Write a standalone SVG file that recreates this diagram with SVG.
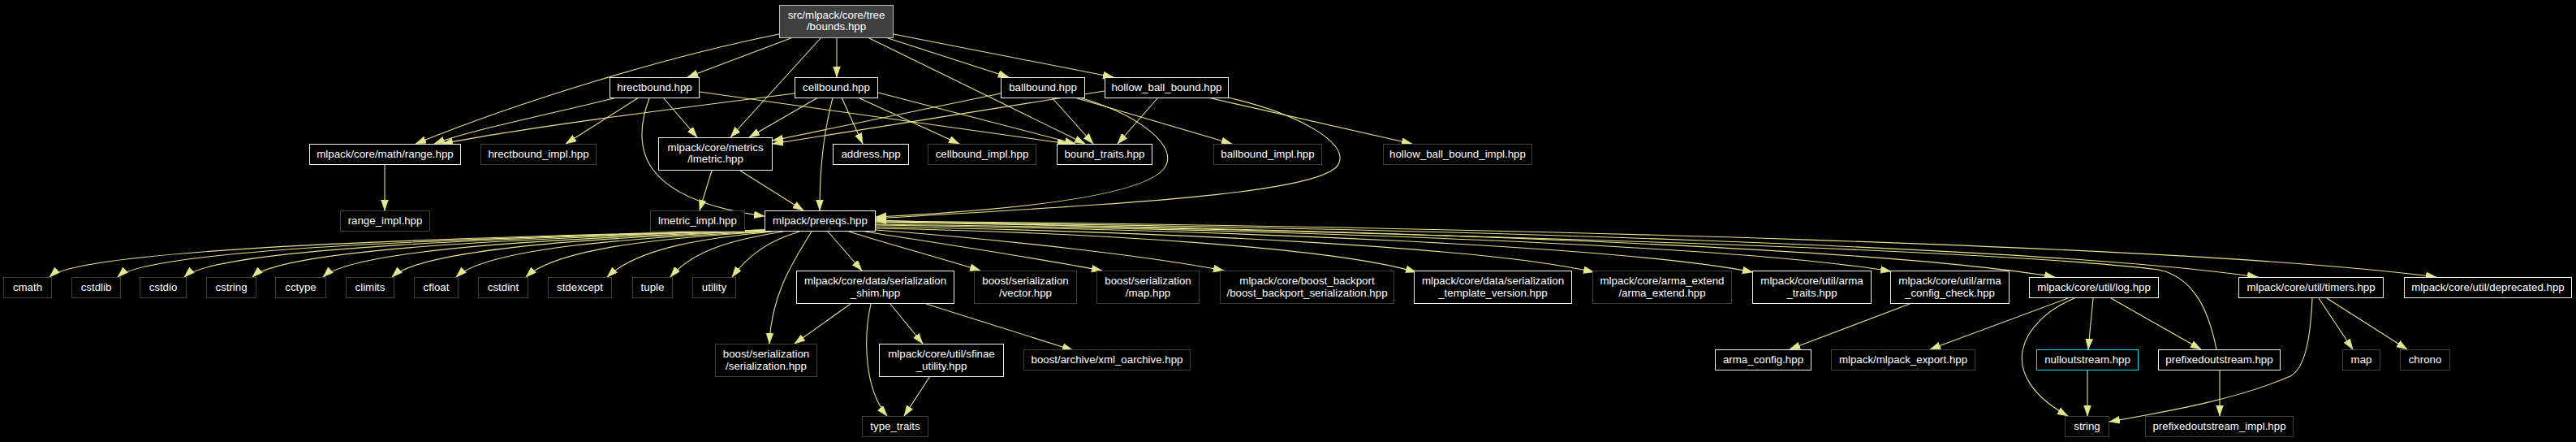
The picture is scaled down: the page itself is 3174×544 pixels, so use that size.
<svg xmlns="http://www.w3.org/2000/svg" width="3174" height="544" viewBox="0 0 3174 544">
<style>
text{font-family:"Liberation Sans",Arial,Helvetica,sans-serif;font-size:13.3px;fill:#ffffff;text-anchor:middle}
.doc{fill:#000;stroke:#f0f0f0;stroke-width:1}
.und{fill:#000;stroke:#404040;stroke-width:1}
.root{fill:#404040;stroke:#bfbfbf;stroke-width:1}
.trunc{fill:#000;stroke:#00e5e5;stroke-width:1}
#edges path{fill:none;stroke:#e6e68f;stroke-width:1.1;marker-end:url(#ah)}
</style>
<defs>
<marker id="ah" markerUnits="userSpaceOnUse" markerWidth="14" markerHeight="10" refX="13" refY="4.5" orient="auto">
<path d="M0,0 L13,4.5 L0,9 z" fill="#e6e68f" stroke="#e6e68f" stroke-width="0.5"/>
</marker>
</defs>
<rect x="0" y="0" width="3174" height="544" fill="#000"/>
<g id="edges">
<path d="M960,42 C820,70 640,125 512,177"/>
<path d="M977,46 L847,95"/>
<path d="M1012,46 L900,169"/>
<path d="M1031,46 L1031,95"/>
<path d="M1069,46 L1337,177"/>
<path d="M1091,46 L1243,95"/>
<path d="M1101,42 L1372,95"/>
<path d="M760,120 C680,140 580,160 535,177"/>
<path d="M787,120 L697,177"/>
<path d="M800,121 C778,180 785,245 942,266"/>
<path d="M817,120 L859,169"/>
<path d="M862,113 L1316,177"/>
<path d="M979,115 C820,135 640,158 545,177"/>
<path d="M1008,120 L923,169"/>
<path d="M1026,120 C1016,160 1010,200 1010,259"/>
<path d="M1037,120 L1063,177"/>
<path d="M1057,120 L1182,177"/>
<path d="M1082,114 L1325,177"/>
<path d="M1233,115 L952,173"/>
<path d="M1296,120 L1347,177"/>
<path d="M1324,120 L1518,177"/>
<path d="M1330,120 C1400,140 1445,175 1438,200 C1430,235 1300,256 1079,267"/>
<path d="M1361,112 L952,177"/>
<path d="M1427,120 L1377,177"/>
<path d="M1488,120 L1740,177"/>
<path d="M1513,120 C1600,140 1660,175 1650,200 C1640,240 1350,252 1079,269"/>
<path d="M474,203 L474,259"/>
<path d="M877,210 L862,259"/>
<path d="M912,210 L990,259"/>
<path d="M944,283 C591,292 101,304 61,341"/>
<path d="M944,283 C624,292 185,304 145,341"/>
<path d="M944,283 C657,292 267,304 227,341"/>
<path d="M944,283 C691,292 351,304 311,341"/>
<path d="M944,284 C726,292 438,304 398,341"/>
<path d="M944,284 C760,292 523,304 483,341"/>
<path d="M945,285 C791,292 602,304 562,341"/>
<path d="M948,285 C828,292 688,304 648,341"/>
<path d="M952,285 C870,293 788,304 748,341"/>
<path d="M965,285 C909,294 856,306 826,341"/>
<path d="M985,285 C952,295 925,310 902,341"/>
<path d="M1000,285 C975,325 950,365 948,423"/>
<path d="M1020,285 L1062,333"/>
<path d="M1046,285 C1100,302 1160,318 1208,333"/>
<path d="M1066,285 C1160,300 1280,318 1358,333"/>
<path d="M1079,283 C1250,296 1420,316 1508,333"/>
<path d="M1079,281 C1345,286 1645,305 1745,335"/>
<path d="M1079,279 C1433,285 1831,304 1964,335"/>
<path d="M1079,277 C1511,283 1998,303 2160,335"/>
<path d="M1079,276 C1579,282 2142,302 2330,334"/>
<path d="M1079,274 C1660,281 2314,304 2532,341"/>
<path d="M1079,273 C1760,280 2527,304 2782,341"/>
<path d="M1079,272 C1848,279 2714,303 3002,341"/>
<path d="M2731,430 C2722,385 2705,342 2660,332 C2400,300 1500,284 1079,271"/>
<path d="M1048,374 L979,423"/>
<path d="M1073,374 C1063,420 1066,480 1093,512"/>
<path d="M1097,374 L1137,423"/>
<path d="M1141,374 L1322,431"/>
<path d="M1146,463 L1114,512"/>
<path d="M2353,374 L2205,430"/>
<path d="M2548,367 L2378,430"/>
<path d="M2556,367 C2490,395 2455,460 2548,512"/>
<path d="M2579,367 L2573,430"/>
<path d="M2601,367 L2712,430"/>
<path d="M2849,367 C2847,410 2842,452 2822,463 C2760,490 2680,505 2599,519"/>
<path d="M2857,367 L2899,430"/>
<path d="M2867,367 L2966,430"/>
<path d="M2572,456 L2572,512"/>
<path d="M2735,456 L2735,512"/>
</g>
<g id="n_bounds"><rect class="root" x="960.5" y="6.5" width="140" height="40"/><text x="1030.5" y="22.5">src/mlpack/core/tree</text><text x="1030.5" y="37">/bounds.hpp</text></g>
<g id="n_hrectbound"><rect class="doc" x="751.5" y="95.5" width="110" height="25"/><text x="806.5" y="112">hrectbound.hpp</text></g>
<g id="n_cellbound"><rect class="doc" x="979.5" y="95.5" width="102" height="25"/><text x="1030.5" y="112">cellbound.hpp</text></g>
<g id="n_ballbound"><rect class="doc" x="1233.5" y="95.5" width="103" height="25"/><text x="1285" y="112">ballbound.hpp</text></g>
<g id="n_hollow"><rect class="doc" x="1361.5" y="95.5" width="152" height="25"/><text x="1437.5" y="112">hollow_ball_bound.hpp</text></g>
<g id="n_range"><rect class="doc" x="381.5" y="177.5" width="186" height="25"/><text x="474.5" y="194">mlpack/core/math/range.hpp</text></g>
<g id="n_hrectimpl"><rect class="und" x="592.5" y="177.5" width="142" height="25"/><text x="663.5" y="194">hrectbound_impl.hpp</text></g>
<g id="n_lmetric"><rect class="doc" x="811.5" y="169.5" width="140" height="40"/><text x="881.5" y="185.5">mlpack/core/metrics</text><text x="881.5" y="200">/lmetric.hpp</text></g>
<g id="n_address"><rect class="doc" x="1026.5" y="177.5" width="93" height="25"/><text x="1073" y="194">address.hpp</text></g>
<g id="n_cellimpl"><rect class="und" x="1143.5" y="177.5" width="133" height="25"/><text x="1210" y="194">cellbound_impl.hpp</text></g>
<g id="n_boundtraits"><rect class="doc" x="1302.5" y="177.5" width="117" height="25"/><text x="1361" y="194">bound_traits.hpp</text></g>
<g id="n_ballimpl"><rect class="und" x="1495.5" y="177.5" width="133" height="25"/><text x="1562" y="194">ballbound_impl.hpp</text></g>
<g id="n_hollowimpl"><rect class="und" x="1704.5" y="177.5" width="183" height="25"/><text x="1796" y="194">hollow_ball_bound_impl.hpp</text></g>
<g id="n_rangeimpl"><rect class="und" x="419.5" y="259.5" width="110" height="25"/><text x="474.5" y="276">range_impl.hpp</text></g>
<g id="n_lmetricimpl"><rect class="und" x="801.5" y="259.5" width="116" height="25"/><text x="859.5" y="276">lmetric_impl.hpp</text></g>
<g id="n_prereqs"><rect class="doc" x="942.5" y="259.5" width="136" height="25"/><text x="1010.5" y="276">mlpack/prereqs.hpp</text></g>
<g id="n_cmath"><rect class="und" x="4.5" y="341.5" width="59" height="25"/><text x="34" y="358">cmath</text></g>
<g id="n_cstdlib"><rect class="und" x="88.5" y="341.5" width="60" height="25"/><text x="118.5" y="358">cstdlib</text></g>
<g id="n_cstdio"><rect class="und" x="172.5" y="341.5" width="57" height="25"/><text x="201" y="358">cstdio</text></g>
<g id="n_cstring"><rect class="und" x="254.5" y="341.5" width="61" height="25"/><text x="285" y="358">cstring</text></g>
<g id="n_cctype"><rect class="und" x="339.5" y="341.5" width="62" height="25"/><text x="370.5" y="358">cctype</text></g>
<g id="n_climits"><rect class="und" x="426.5" y="341.5" width="59" height="25"/><text x="456" y="358">climits</text></g>
<g id="n_cfloat"><rect class="und" x="510.5" y="341.5" width="54" height="25"/><text x="537.5" y="358">cfloat</text></g>
<g id="n_cstdint"><rect class="und" x="589.5" y="341.5" width="61" height="25"/><text x="620" y="358">cstdint</text></g>
<g id="n_stdexcept"><rect class="und" x="675.5" y="341.5" width="78" height="25"/><text x="714.5" y="358">stdexcept</text></g>
<g id="n_tuple"><rect class="und" x="779.5" y="341.5" width="49" height="25"/><text x="804" y="358">tuple</text></g>
<g id="n_utility"><rect class="und" x="853.5" y="341.5" width="53" height="25"/><text x="880" y="358">utility</text></g>
<g id="n_shim"><rect class="doc" x="981.5" y="333.5" width="194" height="40"/><text x="1078.5" y="350">mlpack/core/data/serialization</text><text x="1078.5" y="364.5">_shim.hpp</text></g>
<g id="n_vector"><rect class="und" x="1200.5" y="333.5" width="126" height="40"/><text x="1263.5" y="350">boost/serialization</text><text x="1263.5" y="364.5">/vector.hpp</text></g>
<g id="n_maphpp"><rect class="und" x="1351.5" y="333.5" width="126" height="40"/><text x="1414.5" y="350">boost/serialization</text><text x="1414.5" y="364.5">/map.hpp</text></g>
<g id="n_backport"><rect class="und" x="1503.5" y="333.5" width="214" height="40"/><text x="1610.5" y="350">mlpack/core/boost_backport</text><text x="1610.5" y="364.5">/boost_backport_serialization.hpp</text></g>
<g id="n_tmplver"><rect class="doc" x="1742.5" y="333.5" width="194" height="40"/><text x="1839.5" y="350">mlpack/core/data/serialization</text><text x="1839.5" y="364.5">_template_version.hpp</text></g>
<g id="n_armaextend"><rect class="und" x="1962.5" y="333.5" width="171" height="40"/><text x="2048" y="350">mlpack/core/arma_extend</text><text x="2048" y="364.5">/arma_extend.hpp</text></g>
<g id="n_armatraits"><rect class="doc" x="2159.5" y="333.5" width="146" height="40"/><text x="2232.5" y="350">mlpack/core/util/arma</text><text x="2232.5" y="364.5">_traits.hpp</text></g>
<g id="n_armacheck"><rect class="doc" x="2329.5" y="333.5" width="146" height="40"/><text x="2402.5" y="350">mlpack/core/util/arma</text><text x="2402.5" y="364.5">_config_check.hpp</text></g>
<g id="n_log"><rect class="doc" x="2500.5" y="341.5" width="159" height="25"/><text x="2580" y="358">mlpack/core/util/log.hpp</text></g>
<g id="n_timers"><rect class="doc" x="2758.5" y="341.5" width="178" height="25"/><text x="2847.5" y="358">mlpack/core/util/timers.hpp</text></g>
<g id="n_deprecated"><rect class="doc" x="2962.5" y="341.5" width="206" height="25"/><text x="3065.5" y="358">mlpack/core/util/deprecated.hpp</text></g>
<g id="n_serialization"><rect class="und" x="881.5" y="423.5" width="125" height="40"/><text x="944" y="440">boost/serialization</text><text x="944" y="454.5">/serialization.hpp</text></g>
<g id="n_sfinae"><rect class="doc" x="1083.5" y="423.5" width="153" height="40"/><text x="1160" y="440">mlpack/core/util/sfinae</text><text x="1160" y="454.5">_utility.hpp</text></g>
<g id="n_xml"><rect class="und" x="1261.5" y="430.5" width="205" height="25"/><text x="1364" y="447">boost/archive/xml_oarchive.hpp</text></g>
<g id="n_armaconfig"><rect class="doc" x="2113.5" y="430.5" width="118" height="25"/><text x="2172.5" y="447">arma_config.hpp</text></g>
<g id="n_export"><rect class="und" x="2256.5" y="430.5" width="177" height="25"/><text x="2345" y="447">mlpack/mlpack_export.hpp</text></g>
<g id="n_null"><rect class="trunc" x="2509.5" y="430.5" width="125" height="25"/><text x="2572" y="447">nulloutstream.hpp</text></g>
<g id="n_prefixed"><rect class="doc" x="2659.5" y="430.5" width="150" height="25"/><text x="2734.5" y="447">prefixedoutstream.hpp</text></g>
<g id="n_map"><rect class="und" x="2886.5" y="430.5" width="46" height="25"/><text x="2909.5" y="447">map</text></g>
<g id="n_chrono"><rect class="und" x="2957.5" y="430.5" width="61" height="25"/><text x="2988" y="447">chrono</text></g>
<g id="n_typetraits"><rect class="und" x="1062.5" y="512.5" width="81" height="25"/><text x="1103" y="529">type_traits</text></g>
<g id="n_string"><rect class="und" x="2544.5" y="512.5" width="54" height="25"/><text x="2571.5" y="529">string</text></g>
<g id="n_prefimpl"><rect class="und" x="2643.5" y="512.5" width="182" height="25"/><text x="2734.5" y="529">prefixedoutstream_impl.hpp</text></g>
</svg>
